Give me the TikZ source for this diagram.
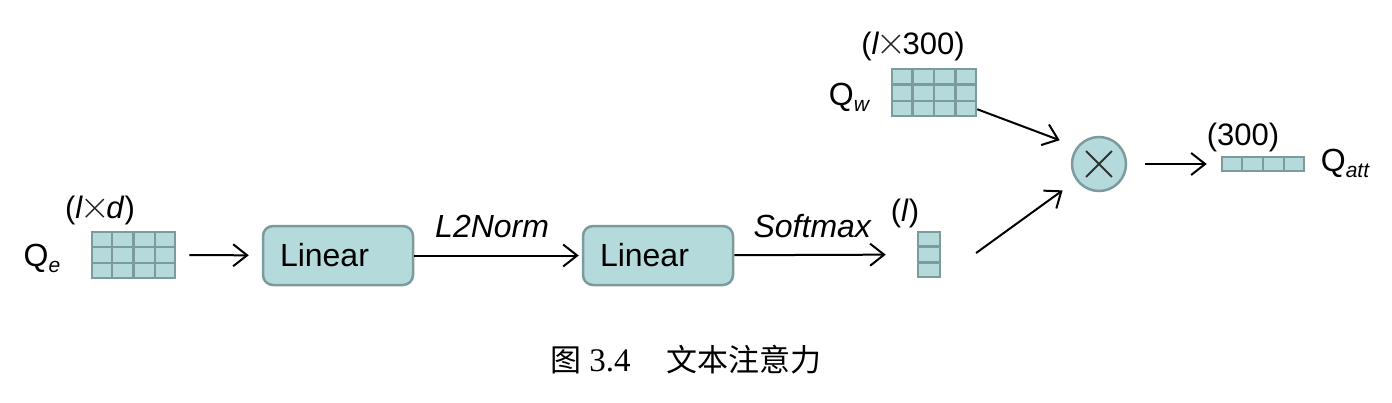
\documentclass[tikz,border=0pt]{standalone}
\usepackage{fontspec}
\setmainfont{Liberation Sans}
\newfontfamily\cjk{Noto Sans CJK SC}
\newfontfamily\capnum{Liberation Serif}
\usetikzlibrary{arrows.meta,calc,positioning}
\definecolor{cellfill}{RGB}{180,218,220}
\definecolor{celldraw}{RGB}{125,155,155}
\newcommand{\lowidx}[1]{\raisebox{-0.35ex}{\fontsize{21}{21}\selectfont\itshape #1}}
\newcommand{\thincross}{\hspace{2pt}\tikz[baseline=-1pt,x=1pt,y=1pt]
  \draw[line width=1.4pt,black!85] (0,0) -- (18,18) (0,18) -- (18,0);\hspace{2pt}}

\begin{document}
\begin{tikzpicture}
  [x=1pt,y=-1pt,on grid,>={Straight Barb[length=14pt,width=22pt]},
   every node/.style={font=\fontsize{32}{38}\selectfont},
   linear/.style={draw=celldraw,fill=cellfill,line width=2.5pt,rounded corners=10pt,
     minimum width=150pt,minimum height=59pt,inner sep=0pt,text width=116pt,align=left},
   cellbox/.style={draw=celldraw,fill=cellfill,line width=2.5pt,inner sep=0pt},
   grid line/.style={celldraw,line width=2.5pt},
   flow/.style={->,line width=2pt},
   dim/.style={font=\fontsize{31}{36}\selectfont}]
  \useasboundingbox (0,0) rectangle (1392,402);
  % blocks
  \node [cellbox,minimum width=83pt,minimum height=46pt] (qe) at (133.5,255) {};
  \node [linear] (lin1) at (338,255.5) {Linear};
  \node [linear,right=320pt of lin1] (lin2) {Linear};
  \node [cellbox,minimum width=22pt,minimum height=45pt] (vl) at (929,254.5) {};
  \node [cellbox,minimum width=84pt,minimum height=47pt] (qw) at (934,92.5) {};
  \node [circle,draw=celldraw,fill=cellfill,line width=2.5pt,minimum size=54pt] (mul) at (1099,164) {};
  \node [cellbox,minimum width=82pt,minimum height=14pt] (qatt) at (1263,164) {};
  % cell lines
  \foreach \m in {qe,qw,qatt}
    \foreach \i in {1,2,3}
      \draw [grid line] ($(\m.north west)!\i/4!(\m.north east)$) -- ($(\m.south west)!\i/4!(\m.south east)$);
  \foreach \m in {qe,qw,vl}
    \foreach \i in {1,2}
      \draw [grid line] ($(\m.north west)!\i/3!(\m.south west)$) -- ($(\m.north east)!\i/3!(\m.south east)$);
  \draw [black!80,line width=2pt,shorten <=10pt,shorten >=10pt] (mul.north west) -- (mul.south east);
  \draw [black!80,line width=2pt,shorten <=10pt,shorten >=10pt] (mul.north east) -- (mul.south west);
  % labels
  \node (qelab) at (42,258) {Q\lowidx{e}};
  \node [dim] (qedim) at (100,210) {(\textit{l}\thincross\textit{d})};
  \node (qwlab) at (849,97) {Q\lowidx{w}};
  \node [dim] (qwdim) at (913,46) {(\textit{l}\thincross300)};
  \node [dim] (vldim) at (905,213) {(\textit{l})};
  \node [dim] (attdim) at (1243,137) {(300)};
  \node (attlab) at (1345,163) {Q\lowidx{att}};
  % arrows
  \draw [flow,shorten <=13pt,shorten >=13pt] (qe) -- (lin1);
  \draw [flow,shorten >=3pt] (lin1) -- node [pos=0.465,yshift=29pt] (l2n) {\textit{L2Norm}} (lin2);
  \draw [flow,shorten >=31pt] (lin2) -- node [pos=0.43,yshift=29pt] (smx) {\textit{Softmax}} (vl);
  \draw [flow,shorten >=42pt] ([yshift=8pt]qw.south east) -- ([yshift=9pt]mul.center);
  \draw [flow,shorten <=43pt,shorten >=45pt] (vl.south east) -- (mul.center);
  \draw [flow,shorten <=18pt,shorten >=14pt] (mul) -- (qatt);
  % caption
  \node [font=\fontsize{31}{36}\selectfont] (cap) at (686,360)
    {\cjk 图\hspace{0.25em}{\capnum\fontsize{33}{36}\selectfont 3.4}\hspace{1.15em}文本注意力};
\end{tikzpicture}
\end{document}
